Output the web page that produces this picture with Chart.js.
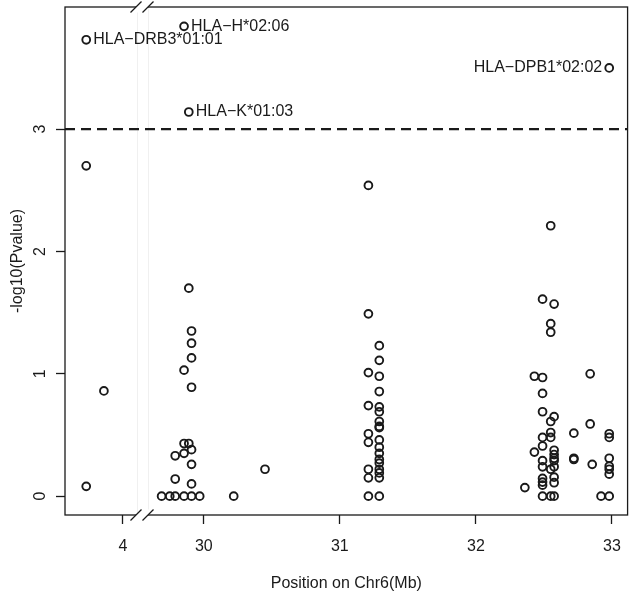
<!DOCTYPE html>
<html><head><meta charset="utf-8">
<script src="https://cdn.jsdelivr.net/npm/chart.js@4"></script>
<style>html,body{margin:0;padding:0;background:#fff}#wrap{width:634px;height:595px}</style>
</head><body><div id="wrap"><canvas id="c" width="634" height="595"></canvas></div>
<script>
// ---- data (position on chr6 in Mb, -log10 P) ----
const positionsMb = [
  3.73, 3.73, 3.86,
  29.69, 29.75, 29.79, 29.79, 29.79, 29.855, 29.855, 29.855, 29.855, 29.89,
  29.91, 29.91, 29.91, 29.91, 29.91, 29.91, 29.91, 29.91, 29.89, 29.97, 30.22, 30.45,
  31.21, 31.21, 31.21, 31.21, 31.21, 31.21, 31.21, 31.21, 31.21,
  31.29, 31.29, 31.29, 31.29, 31.29, 31.29, 31.29, 31.29, 31.29,
  31.29, 31.29, 31.29, 31.29, 31.29, 31.29, 31.29, 31.29, 31.29,
  32.36, 32.43, 32.43,
  32.49, 32.49, 32.49, 32.49, 32.49, 32.49, 32.49, 32.49, 32.49, 32.49, 32.49, 32.49,
  32.55, 32.55, 32.55, 32.55, 32.55, 32.55, 32.55, 32.55,
  32.575, 32.575, 32.575, 32.575, 32.575, 32.575, 32.575, 32.575, 32.575, 32.575,
  32.72, 32.72, 32.72, 32.84, 32.84, 32.855, 32.92,
  32.98, 32.98, 32.98, 32.98, 32.98, 32.98, 32.98
];
const neglog10P = [
  2.70, 0.08, 0.86,
  0, 0, 0, 0.14, 0.33, 0, 0.35, 0.43, 1.03, 0.43,
  0, 0.10, 0.26, 0.38, 0.89, 1.13, 1.25, 1.35, 1.70, 0, 0, 0.22,
  2.54, 1.49, 1.01, 0.74, 0.51, 0.44, 0.22, 0.15, 0,
  1.23, 1.11, 0.98, 0.855, 0.73, 0.69, 0.61, 0.57, 0.56,
  0.46, 0.40, 0.35, 0.30, 0.27, 0.22, 0.19, 0.15, 0,
  0.07, 0.98, 0.36,
  1.61, 0.97, 0.84, 0.69, 0.48, 0.41, 0.29, 0.24, 0.145, 0.115, 0.09, 0,
  2.21, 1.41, 1.34, 0.61, 0.52, 0.48, 0.22, 0,
  1.57, 0.65, 0.375, 0.34, 0.31, 0.29, 0.24, 0.155, 0.11, 0,
  0.515, 0.31, 0.30, 1.00, 0.59, 0.26, 0,
  0.51, 0.48, 0.31, 0.245, 0.22, 0.18, 0
];
const labelNames = ['HLA\u2212DRB3*01:01', 'HLA\u2212H*02:06', 'HLA\u2212K*01:03', 'HLA\u2212DPB1*02:02'];
const labelPositionsMb = [3.73, 29.855, 29.89, 32.98];
const labelValues = [3.73, 3.84, 3.14, 3.50];
const labelSides = ['right', 'right', 'right', 'left'];
const xTickValuesMb = [4, 30, 31, 32, 33];
const yTickValues = [0, 1, 2, 3];
const threshold = 3;

// ---- broken axis mapping: low segment (around 4 Mb) is shifted next to 30 Mb ----
const LOW_TICK = 4, LOW_TICK_AXIS = 29.406;
const toAxis = x => x < 20 ? x - LOW_TICK + LOW_TICK_AXIS : x;
const X_MIN = 28.98, X_MAX = 33.115, Y_MIN = -0.154, Y_MAX = 3.998;

const INK = '#1a1a1a';
const FONT = '"Liberation Sans", Arial, Helvetica, sans-serif';

const pts = positionsMb.map((x, i) => ({x: toAxis(x), y: neglog10P[i]}))
  .concat(labelPositionsMb.map((x, i) => ({x: toAxis(x), y: labelValues[i]})));

const decor = {
  id: 'decor',
  beforeDatasetsDraw(chart) {
    const {ctx, chartArea: a} = chart;
    ctx.save();
    ctx.strokeStyle = '#f0f0f0';
    ctx.lineWidth = 1;
    [137.5, 148.5].forEach(px => { ctx.beginPath(); ctx.moveTo(px, a.top); ctx.lineTo(px, a.bottom); ctx.stroke(); });
    ctx.restore();
  },
  afterDraw(chart) {
    const {ctx, chartArea: a, scales: {x, y}} = chart;
    ctx.save();
    // box
    ctx.strokeStyle = INK; ctx.lineWidth = 1.3;
    ctx.strokeRect(a.left, a.top, a.right - a.left, a.bottom - a.top);
    // axis break marks
    const c1 = 136, c2 = 148, h = 5.5;
    [a.top, a.bottom].forEach(yy => {
      ctx.fillStyle = '#fff';
      ctx.beginPath();
      ctx.moveTo(c1 - h, yy + h); ctx.lineTo(c1 + h, yy - h);
      ctx.lineTo(c2 + h, yy - h); ctx.lineTo(c2 - h, yy + h); ctx.closePath();
      ctx.fill();
      ctx.beginPath();
      ctx.moveTo(c1 - h, yy + h); ctx.lineTo(c1 + h, yy - h);
      ctx.moveTo(c2 - h, yy + h); ctx.lineTo(c2 + h, yy - h);
      ctx.stroke();
    });
    // rotated y tick labels
    ctx.fillStyle = INK;
    ctx.font = '16px ' + FONT;
    ctx.textAlign = 'center'; ctx.textBaseline = 'middle';
    y.ticks.forEach(t => {
      ctx.save();
      ctx.translate(41, y.getPixelForValue(t.value));
      ctx.rotate(-Math.PI / 2);
      ctx.fillText(String(t.value), 0, 0);
      ctx.restore();
    });
    // point labels
    labelNames.forEach((name, i) => {
      const px = x.getPixelForValue(toAxis(labelPositionsMb[i]));
      const py = y.getPixelForValue(labelValues[i]);
      if (labelSides[i] === 'right') { ctx.textAlign = 'left'; ctx.fillText(name, px + 7, py); }
      else { ctx.textAlign = 'right'; ctx.fillText(name, px - 7, py); }
    });
    ctx.restore();
  }
};

new Chart(document.getElementById('c'), {
  type: 'scatter',
  data: {
    datasets: [
      {
        data: pts,
        pointStyle: 'circle',
        pointRadius: 3.9,
        pointBorderWidth: 1.9,
        pointBackgroundColor: 'rgba(0,0,0,0)',
        pointBorderColor: INK,
        showLine: false
      },
      {
        type: 'line',
        data: [{x: X_MIN, y: threshold}, {x: X_MAX, y: threshold}],
        borderColor: INK,
        borderWidth: 2.4,
        borderDash: [10, 6],
        pointRadius: 0,
        fill: false
      }
    ]
  },
  options: {
    responsive: false,
    animation: false,
    devicePixelRatio: 1,
    layout: {padding: {top: 7, right: 3, left: 0, bottom: 0}},
    plugins: {legend: {display: false}, tooltip: {enabled: false}},
    scales: {
      x: {
        type: 'linear', min: X_MIN, max: X_MAX,
        afterBuildTicks: s => { s.ticks = xTickValuesMb.map(v => ({value: toAxis(v)})); },
        afterFit: s => { s.height = 80; },
        border: {display: false},
        grid: {drawOnChartArea: false, drawTicks: true, tickLength: 9, tickColor: INK, tickWidth: 1.3},
        ticks: {
          color: INK, font: {family: FONT, size: 16}, padding: 13, maxRotation: 0, autoSkip: false,
          callback: (v, i) => String(xTickValuesMb[i])
        },
        title: {display: true, text: 'Position on Chr6(Mb)', color: INK, font: {family: FONT, size: 16}, padding: {top: 0, bottom: 2}}
      },
      y: {
        type: 'linear', min: Y_MIN, max: Y_MAX,
        afterBuildTicks: s => { s.ticks = yTickValues.map(v => ({value: v})); },
        afterFit: s => { s.width = 65; },
        border: {display: false},
        grid: {drawOnChartArea: false, drawTicks: true, tickLength: 9, tickColor: INK, tickWidth: 1.3},
        ticks: {display: false},
        title: {display: true, text: '-log10(Pvalue)', color: INK, font: {family: FONT, size: 16}, padding: {top: 8, bottom: 0}}
      }
    }
  },
  plugins: [decor]
});
</script></body></html>
